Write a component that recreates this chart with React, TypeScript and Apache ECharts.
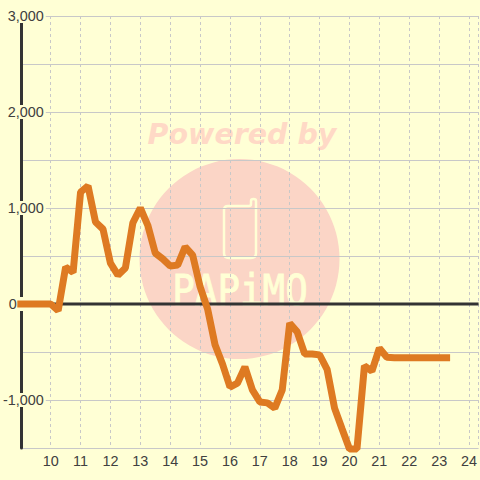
import React, { useEffect, useRef } from "react";
import * as echarts from "echarts";

const hours = [9, 9.25, 9.5, 9.75, 10, 10.25, 10.5, 10.75, 11, 11.25, 11.5, 11.75, 12, 12.25, 12.5, 12.75, 13, 13.25, 13.5, 13.75, 14, 14.25, 14.5, 14.75, 15, 15.25, 15.5, 15.75, 16, 16.25, 16.5, 16.75, 17, 17.25, 17.5, 17.75, 18, 18.25, 18.5, 18.75, 19, 19.25, 19.5, 19.75, 20, 20.25, 20.5, 20.75, 21, 21.25, 21.5, 21.75, 22, 22.25, 22.5, 22.75, 23, 23.25];
const values = [0, 0, 0, 0, 0, -70, 385, 330, 1165, 1230, 855, 780, 425, 300, 375, 845, 1000, 820, 530, 470, 395, 405, 595, 510, 180, -50, -425, -625, -865, -825, -655, -895, -1020, -1030, -1085, -895, -200, -290, -520, -520, -530, -680, -1085, -1300, -1510, -1510, -645, -700, -460, -555, -560, -560, -560, -560, -560, -560, -560, -560];
const yTickLabels: Record<string, string> = { "3000": "3,000", "2000": "2,000", "1000": "1,000", "0": "0", "-1000": "-1,000" };
const zeroBaseline = [0, 0];
const xExtent = [9, 24.32];

const BG = "#FFFFD5";
const PINK = "#FBD5C6";
const FONT = "'Liberation Sans', Arial, sans-serif";

const iconPath =
  "M228 206 L249 206 Q251 206 251 204 L251 201 Q251 199 253.5 199 Q256 199 256 201 L256 253 Q256 258 251 258 L229 258 Q224 258 224 253 L224 210 Q224 206 228 206 Z";

export default function App() {
  const ref = useRef<HTMLDivElement>(null);
  useEffect(() => {
    if (!ref.current) return;
    echarts.graphic.registerShape("papimoIcon", echarts.graphic.extendPath(iconPath, {}) as any);
    const chart = echarts.init(ref.current, undefined, { renderer: "svg" });
    chart.setOption({
      animation: false,
      backgroundColor: BG,
      textStyle: { fontFamily: FONT },
      grid: { left: 20, right: 0, top: 16, bottom: 32, containLabel: false },
      graphic: [
        { type: "circle", z: -1, silent: true, shape: { cx: 239.5, cy: 259, r: 100 }, style: { fill: PINK } },
        {
          type: "text", z: -1, silent: true, x: 242, y: 134,
          style: { text: "Powered by", fill: "#FFD9C6", font: "italic bold 28.5px 'DejaVu Sans'", textAlign: "center", textVerticalAlign: "middle" },
        },
        { type: "papimoIcon", z: -1, silent: true, style: { fill: "none", stroke: BG, lineWidth: 2.5 } },
        {
          type: "text", z: -1, silent: true, x: 240, y: 290, scaleY: 1.15,
          style: { text: "PAPiMO", fill: BG, stroke: BG, lineWidth: 0.8, font: "37.5px 'DejaVu Sans Mono'", textAlign: "center", textVerticalAlign: "middle" },
        },
      ],
      xAxis: [
        {
          type: "value",
          min: xExtent[0],
          max: xExtent[1],
          interval: 1,
          axisLine: { show: false },
          axisTick: { show: false },
          splitLine: { show: true, lineStyle: { color: "#C8C8C8", width: 1, type: [3, 3] } },
          axisLabel: {
            show: true,
            margin: 6,
            color: "#404040",
            fontSize: 14.4,
            fontFamily: FONT,
            showMinLabel: false,
            showMaxLabel: false,
            formatter: (v: number) => (Number.isInteger(v) && v > xExtent[0] ? String(v) : ""),
          },
        },
      ],
      yAxis: [
        {
          type: "value",
          min: -1500,
          max: 3000,
          interval: 500,
          axisLine: { show: true, onZero: false, lineStyle: { color: "#333333", width: 3 } },
          axisTick: { show: false },
          splitLine: { show: true, lineStyle: { color: "#C8C8C8", width: 1 } },
          axisLabel: {
            show: true,
            margin: -25,
            color: "#404040",
            fontSize: 14.4,
            fontFamily: FONT,
            formatter: (v: number) => {
              const t = yTickLabels[String(v)];
              if (!t) return "";
              return v === 0 ? `{z|${t}}` : `{a|${t}}`;
            },
            rich: {
              a: { backgroundColor: BG, padding: [0, 2, 0, 0], lineHeight: 16, fontSize: 14.4, color: "#404040", fontFamily: FONT },
              z: { backgroundColor: BG, padding: [0, 29, 0, 0], lineHeight: 16, fontSize: 14.4, color: "#404040", fontFamily: FONT },
            },
          },
        },
      ],
      series: [
        {
          type: "line",
          z: 1,
          silent: true,
          symbol: "none",
          data: xExtent.map((x, i) => [x, zeroBaseline[i]]),
          lineStyle: { color: "#333333", width: 3 },
        },
        {
          type: "line",
          z: 3,
          clip: false,
          silent: true,
          symbol: "none",
          data: hours.map((h, i) => [h, values[i]]),
          lineStyle: { color: "#DE7A22", width: 7, cap: "square", join: "bevel" },
        },
      ],
    });
    return () => chart.dispose();
  }, []);
  return <div ref={ref} style={{ width: 480, height: 480, position: "fixed", left: 0, top: 0 }} />;
}
